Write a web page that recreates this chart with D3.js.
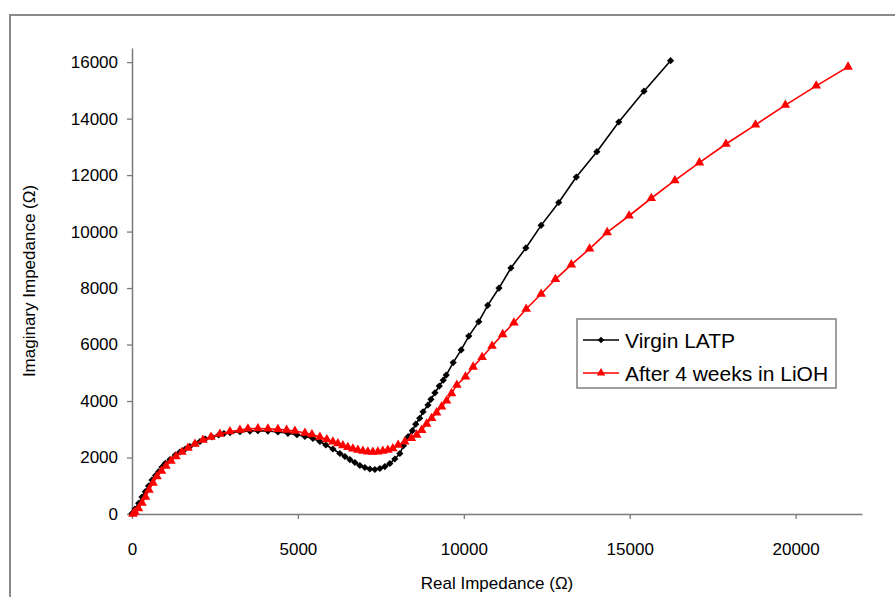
<!DOCTYPE html>
<html><head><meta charset="utf-8">
<script src="https://cdn.jsdelivr.net/npm/d3@7"></script>
<style>
body{margin:0;background:#fff}
text{font-family:"Liberation Sans",Arial,sans-serif;fill:#000}
</style>
</head><body>
<svg id="c" width="895" height="597"></svg>
<script>
// ---- data ----
const seriesNames = ["Virgin LATP", "After 4 weeks in LiOH"];
const virginX = [0,90,202,301,401,497,602,708,804,904,1003,1145,1304,1446,1605,1747,1907,2048,2208,2410,2611,2771,2952,3253,3554,3795,4096,4398,4699,4970,5211,5452,5663,5843,6054,6265,6416,6566,6717,6867,7018,7169,7319,7470,7620,7771,7921,8072,8180,8322,8450,8550,8670,8770,8920,9010,9130,9260,9380,9470,9680,9920,10150,10450,10720,11060,11420,11870,12330,12860,13390,14010,14670,15430,16230];
const virginY = [20,177,379,602,789,991,1204,1363,1497,1664,1795,1929,2089,2195,2301,2390,2496,2567,2655,2726,2797,2850,2885,2913,2938,2949,2938,2903,2857,2807,2744,2673,2567,2443,2301,2142,2036,1929,1823,1717,1646,1593,1575,1611,1681,1788,1947,2142,2420,2736,2950,3180,3390,3620,3860,4060,4290,4530,4740,4920,5360,5810,6300,6810,7390,8000,8710,9420,10220,11030,11930,12830,13880,14970,16050];
const lihX = [30,90,196,301,407,512,633,753,889,1024,1175,1325,1506,1687,1898,2139,2380,2651,2952,3253,3494,3795,4096,4397,4660,4910,5211,5422,5663,5873,6054,6205,6355,6506,6657,6807,6958,7108,7259,7410,7560,7711,7861,8020,8220,8420,8580,8730,8880,9030,9180,9330,9480,9630,9790,10050,10280,10550,10850,11170,11510,11880,12330,12760,13240,13790,14320,14980,15650,16360,17100,17900,18790,19690,20620,21580];
const lihY = [0,71,195,389,602,850,1097,1328,1522,1699,1876,2036,2195,2336,2478,2620,2726,2832,2921,2974,3020,3027,3020,2998,2974,2938,2867,2814,2726,2637,2559,2496,2425,2361,2312,2266,2230,2205,2195,2205,2230,2266,2319,2440,2560,2680,2800,2970,3190,3390,3590,3800,4010,4270,4570,4860,5210,5550,5950,6360,6770,7260,7790,8310,8830,9390,9970,10560,11180,11810,12440,13100,13780,14480,15160,15830];
const xTicks = [0, 5000, 10000, 15000, 20000];
const yTicks = [0, 2000, 4000, 6000, 8000, 10000, 12000, 14000, 16000];
const xTitle = "Real Impedance (\u03A9)";
const yTitle = "Imaginary Impedance (\u03A9)";

// ---- drawing ----
const svg = d3.select("#c");
const x = d3.scaleLinear().domain([0, 22000]).range([132, 862]);
const y = d3.scaleLinear().domain([0, 16500]).range([514, 48]);
const axisColor = "#7a7a7a";

// outer chart frame (partially visible)
svg.append("path").attr("d", "M10,597V15H895").attr("fill", "none")
  .attr("stroke", "#8a8a8a").attr("stroke-width", 2);

const yAx = svg.append("g").attr("transform", "translate(132,0)")
  .call(d3.axisLeft(y).tickValues(yTicks).tickSize(5).tickPadding(9).tickSizeOuter(0).tickFormat(d3.format("d")));
const xAx = svg.append("g").attr("transform", "translate(0,514)")
  .call(d3.axisBottom(x).tickValues(xTicks).tickSize(5).tickPadding(24).tickSizeOuter(0).tickFormat(d3.format("d")));
[xAx, yAx].forEach(g => {
  g.select(".domain").attr("stroke", axisColor).attr("stroke-width", 1.5);
  g.selectAll(".tick line").attr("stroke", axisColor).attr("stroke-width", 1.3);
  g.selectAll(".tick text").attr("font-size", 17).attr("fill", "#000")
    .attr("font-family", '"Liberation Sans",Arial,sans-serif');
});

svg.append("text").attr("x", 497).attr("y", 589).attr("text-anchor", "middle")
  .attr("font-size", 17).text(xTitle);
svg.append("text").attr("transform", "translate(35,281) rotate(-90)")
  .attr("text-anchor", "middle").attr("font-size", 17).text(yTitle);

const series = [
  {name: seriesNames[0], xs: virginX, ys: virginY, color: "#000000", sym: d3.symbolSquare, size: 26, rot: 45},
  {name: seriesNames[1], xs: lihX, ys: lihY, color: "#ff0000", sym: d3.symbolTriangle, size: 40, rot: 0}
];
const line = d3.line().x(d => x(d[0])).y(d => y(d[1]));
series.forEach(s => {
  const pts = s.xs.map((v, i) => [v, s.ys[i]]);
  svg.append("path").datum(pts).attr("d", line).attr("fill", "none")
    .attr("stroke", s.color).attr("stroke-width", 1.6);
  svg.append("g").selectAll("path").data(pts).join("path")
    .attr("transform", d => `translate(${x(d[0])},${y(d[1])}) rotate(${s.rot})`)
    .attr("d", d3.symbol().type(s.sym).size(s.size)).attr("fill", s.color);
});

// legend
const lg = svg.append("g");
lg.append("rect").attr("x", 577).attr("y", 319).attr("width", 259).attr("height", 69)
  .attr("fill", "#fff").attr("stroke", "#808080").attr("stroke-width", 1.5);
series.forEach((s, i) => {
  const yy = 340 + i * 33;
  lg.append("line").attr("x1", 583).attr("x2", 619).attr("y1", yy).attr("y2", yy)
    .attr("stroke", s.color).attr("stroke-width", 1.6);
  lg.append("path").attr("transform", `translate(601,${yy}) rotate(${s.rot})`)
    .attr("d", d3.symbol().type(s.sym).size(s.size * 0.8)).attr("fill", s.color);
  lg.append("text").attr("x", 625).attr("y", yy + 7.5).attr("font-size", 21).text(s.name);
});
</script>
</body></html>
